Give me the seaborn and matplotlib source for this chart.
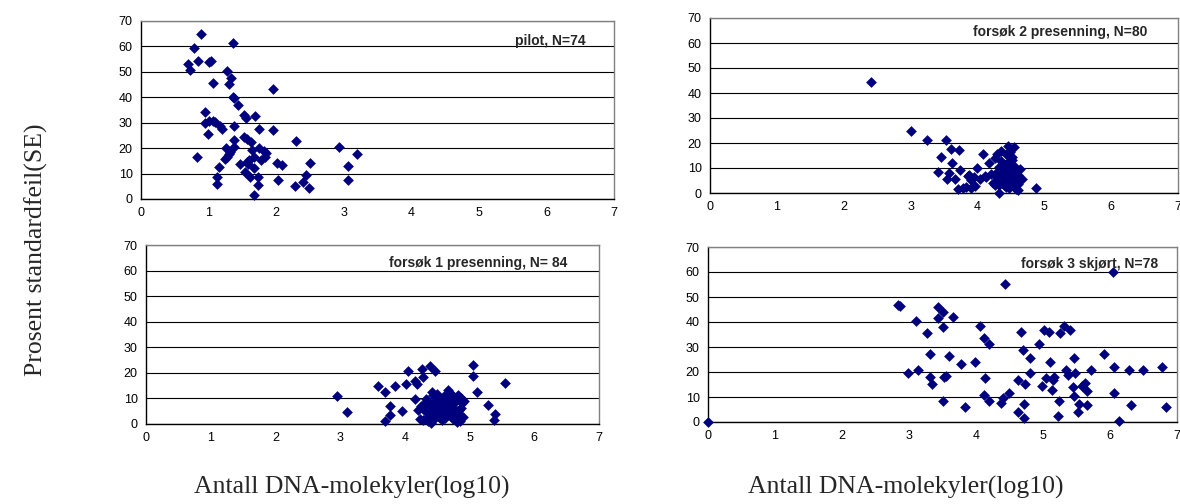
import matplotlib
matplotlib.use('Agg')
import matplotlib.pyplot as plt
import seaborn as sns

# pilot, N=74
pilot_x = [0.89, 0.79, 1.36, 0.69, 0.73, 0.85, 1.00, 1.04, 1.28, 1.33,
           1.30, 1.06, 1.95, 1.36, 1.38, 1.44, 0.95, 1.52, 1.55, 1.68,
           0.94, 1.01, 1.07, 1.10, 1.17, 1.20, 1.38, 1.75, 1.96, 0.99,
           1.53, 1.57, 1.63, 1.38, 2.30, 2.93, 1.26, 1.37, 1.65, 1.75,
           1.82, 1.85, 3.19, 0.83, 1.30, 1.32, 1.28, 1.25, 1.67, 1.83,
           1.77, 1.60, 1.47, 1.57, 1.59, 2.01, 2.09, 2.50, 3.07, 1.16,
           1.54, 1.67, 1.73, 1.62, 1.13, 1.13, 2.03, 2.44, 2.40, 2.28,
           2.49, 1.73, 3.07, 1.67]
pilot_y = [65.0, 59.4, 61.4, 53.1, 50.7, 54.4, 53.7, 54.4, 50.2, 47.5,
           45.2, 45.8, 43.2, 40.3, 39.8, 37.0, 34.2, 33.1, 31.9, 32.5,
           29.9, 30.6, 30.6, 30.1, 28.7, 27.6, 28.9, 27.5, 27.0, 25.4,
           24.3, 23.6, 22.4, 23.1, 22.8, 20.3, 19.9, 20.5, 19.4, 20.1,
           18.8, 17.9, 17.7, 16.7, 17.6, 18.6, 16.6, 15.8, 16.6, 16.6,
           15.3, 15.5, 13.7, 14.5, 13.7, 14.2, 13.3, 14.2, 13.0, 12.6,
           10.7, 12.3, 8.7, 8.6, 8.7, 6.0, 7.6, 9.6, 6.6, 5.0,
           4.4, 5.6, 7.6, 1.4]

# forsøk 2 presenning, N=80
f2_x = [2.41, 3.00, 3.24, 3.53, 3.60, 3.72, 3.46, 3.62, 3.74, 3.41,
        3.58, 3.55, 3.66, 3.71, 3.79, 3.91, 3.90, 3.88, 3.95, 4.00,
        4.04, 4.09, 4.11, 4.17, 4.26, 4.30, 4.35, 4.46, 4.54, 4.48,
        4.51, 4.46, 4.38, 4.33, 4.56, 4.29, 4.41, 4.51, 4.61, 4.66,
        4.23, 4.33, 4.32, 4.43, 4.51, 4.58, 4.61, 4.87, 4.38, 4.46,
        4.53, 4.56, 4.43, 4.49, 4.41, 4.31, 4.26, 4.48, 4.61, 4.38,
        4.54, 4.52, 4.47, 4.43, 3.86, 3.83, 3.97, 4.13, 4.21, 4.61,
        4.57, 4.36, 4.45, 4.50, 4.40, 4.55, 4.28, 4.63, 4.35, 4.47]
f2_y = [44.3, 25.0, 21.3, 21.4, 17.7, 17.1, 14.3, 12.0, 9.4, 8.4,
        7.9, 5.8, 5.8, 1.7, 2.0, 2.1, 5.1, 7.1, 6.6, 10.0,
        5.6, 15.7, 6.7, 12.0, 14.2, 15.5, 16.9, 18.7, 18.5, 16.5,
        14.5, 12.4, 11.8, 10.4, 10.4, 8.4, 7.8, 8.4, 7.1, 5.8,
        4.0, 3.1, 0.0, 2.4, 4.4, 1.7, 1.1, 2.1, 5.8, 6.4,
        6.4, 3.7, 9.8, 11.1, 4.4, 5.8, 3.1, 3.1, 3.7, 9.1,
        9.1, 13.3, 14.7, 15.8, 6.7, 2.4, 2.7, 6.4, 7.5, 5.1,
        7.8, 12.9, 10.6, 7.2, 3.4, 2.5, 6.9, 9.6, 8.0, 1.9]

# forsøk 1 presenning, N= 84
f1_x = [2.95, 3.10, 3.59, 3.70, 3.77, 3.77, 3.70, 3.85, 3.95, 4.01,
        4.05, 4.15, 4.19, 4.15, 4.26, 4.28, 4.39, 4.46, 4.21, 4.24,
        4.28, 4.41, 4.42, 4.44, 4.31, 4.36, 4.49, 4.54, 4.39, 4.44,
        4.52, 4.57, 4.62, 4.67, 4.69, 4.65, 4.75, 4.80, 4.80, 4.85,
        4.82, 4.88, 4.92, 4.85, 4.86, 5.06, 5.06, 5.12, 5.28, 5.39,
        5.37, 5.55, 4.60, 4.50, 4.65, 4.72, 4.57, 4.75, 4.31, 4.46,
        4.25, 4.33, 4.38, 4.42, 4.47, 4.50, 4.53, 4.55, 4.58, 4.60,
        4.62, 4.64, 4.67, 4.70, 4.72, 4.74, 4.77, 4.78, 4.83, 4.87,
        4.90, 4.35, 4.48, 4.69]
f1_y = [11.1, 4.8, 14.7, 12.5, 7.2, 3.5, 1.0, 14.7, 5.2, 15.7,
        20.8, 16.7, 15.6, 9.9, 21.5, 18.2, 22.5, 20.9, 5.6, 2.1,
        1.7, 0.4, 12.4, 11.2, 8.2, 8.8, 9.5, 7.5, 6.9, 4.9,
        3.6, 1.7, 5.6, 13.4, 12.1, 8.2, 6.2, 4.9, 0.7, 1.0,
        11.4, 8.2, 9.1, 3.6, 6.2, 22.9, 18.6, 12.5, 7.4, 3.9,
        1.7, 16.1, 10.8, 6.2, 3.6, 3.0, 9.5, 10.8, 4.9, 2.3,
        7.0, 9.6, 3.0, 7.8, 5.5, 11.6, 2.8, 4.4, 6.8, 8.9,
        2.2, 10.1, 4.5, 7.3, 9.4, 1.9, 3.8, 8.6, 5.3, 10.2,
        2.6, 1.2, 8.4, 5.9]

# forsøk 3 skjørt, N=78
f3_x = [0.00, 2.84, 2.86, 3.10, 2.99, 3.14, 3.27, 3.31, 3.31, 3.34,
        3.44, 3.50, 3.44, 3.51, 3.66, 3.55, 3.52, 3.59, 3.51, 3.77,
        3.84, 3.98, 4.06, 4.12, 4.20, 4.13, 4.12, 4.20, 4.43, 4.37,
        4.40, 4.49, 4.62, 4.62, 4.67, 4.70, 4.73, 4.71, 4.71, 4.81,
        4.80, 4.94, 4.99, 5.02, 5.09, 5.04, 5.10, 5.16, 5.15, 5.14,
        5.25, 5.24, 5.23, 5.31, 5.40, 5.35, 5.37, 5.47, 5.48, 5.45,
        5.47, 5.54, 5.52, 5.58, 5.63, 5.66, 5.65, 5.72, 5.91, 6.06,
        6.06, 6.05, 6.13, 6.28, 6.32, 6.49, 6.77, 6.83]
f3_y = [0.0, 46.7, 46.3, 40.4, 19.6, 20.8, 35.6, 27.3, 18.0, 15.3,
        46.0, 44.0, 41.6, 38.0, 42.0, 18.4, 18.0, 26.3, 8.4, 23.3,
        6.0, 24.0, 38.3, 33.7, 31.1, 17.6, 10.7, 8.4, 55.1, 7.6,
        9.7, 11.7, 16.9, 4.0, 36.0, 28.7, 15.3, 7.3, 1.7, 25.7,
        19.6, 31.1, 14.3, 36.7, 36.0, 17.6, 24.0, 18.0, 16.7, 12.7,
        35.6, 8.4, 2.4, 38.3, 36.7, 20.7, 18.9, 25.7, 19.6, 14.0,
        10.4, 7.3, 4.0, 14.3, 15.6, 12.4, 6.7, 20.7, 27.3, 22.0,
        11.6, 60.0, 0.4, 20.7, 6.7, 20.7, 22.0, 6.0]

x_ticks = [0, 1, 2, 3, 4, 5, 6, 7]
y_ticks = [0, 10, 20, 30, 40, 50, 60, 70]

sns.set_style('white')
plt.rcParams['font.family'] = ['Liberation Sans', 'DejaVu Sans']

W, H = 1180, 504
fig = plt.figure(figsize=(W / 100, H / 100), dpi=100)


def rect(l, r, t, b):
    return [l / W, 1 - b / H, (r - l) / W, (b - t) / H]


panels = [
    (pilot_x, pilot_y, 'pilot, N=74', rect(141, 614, 21, 199), 0.94, 0.89),
    (f2_x, f2_y, 'forsøk 2 presenning, N=80', rect(710, 1178, 18, 193), 0.934, 0.92),
    (f1_x, f1_y, 'forsøk 1 presenning, N= 84', rect(146, 599, 245, 424), 0.93, 0.90),
    (f3_x, f3_y, 'forsøk 3 skjørt, N=78', rect(708, 1177, 247, 422), 0.96, 0.905),
]

for xs, ys, label, r, tx, ty in panels:
    ax = fig.add_axes(r)
    sns.scatterplot(x=xs, y=ys, ax=ax, marker='D', color='#00007f', s=30,
                    linewidth=0, clip_on=False, zorder=3)
    ax.set_xlim(0, 7)
    ax.set_ylim(0, 70)
    ax.set_xticks(x_ticks)
    ax.set_yticks(y_ticks)
    ax.yaxis.grid(True, color='black', linewidth=0.8)
    ax.set_axisbelow(True)
    for side in ['left', 'bottom']:
        ax.spines[side].set_color('black')
        ax.spines[side].set_linewidth(1.0)
    for side in ['right', 'top']:
        ax.spines[side].set_color('#808080')
        ax.spines[side].set_linewidth(1.0)
    ax.tick_params(direction='out', length=4, width=0.8, labelsize=9,
                   colors='black', pad=2)
    ax.set_xlabel('')
    ax.set_ylabel('')
    ax.text(tx, ty, label, transform=ax.transAxes, ha='right', va='center',
            fontsize=10, fontweight='bold')

fig.text(36 / W, 1 - 250 / H, 'Prosent standardfeil(SE)', rotation=90,
         ha='center', va='center', fontsize=18.5, family='Liberation Serif')
fig.text(352 / W, 1 - 487 / H, 'Antall DNA-molekyler(log10)',
         ha='center', va='center', fontsize=18.5, family='Liberation Serif')
fig.text(906 / W, 1 - 487 / H, 'Antall DNA-molekyler(log10)',
         ha='center', va='center', fontsize=18.5, family='Liberation Serif')

fig.savefig('out.png', dpi=100)
